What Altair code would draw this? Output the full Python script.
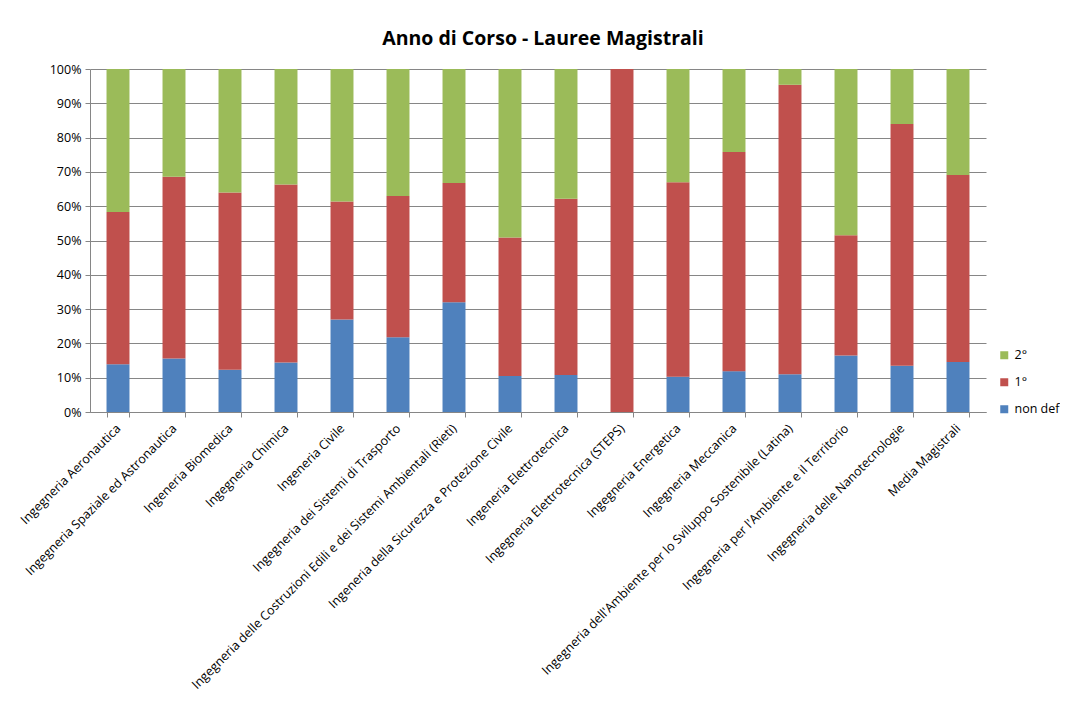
import altair as alt
import pandas as pd

categories = [
    "Ingegneria Aeronautica",
    "Ingegneria Spaziale ed Astronautica",
    "Ingeneria Biomedica",
    "Ingegneria Chimica",
    "Ingeneria Civile",
    "Ingegneria dei Sistemi di Trasporto",
    "Ingegneria delle Costruzioni Edili e dei Sistemi Ambientali (Rieti)",
    "Ingeneria della Sicurezza e Protezione Civile",
    "Ingeneria Elettrotecnica",
    "Ingegneria Elettrotecnica (STEPS)",
    "Ingegneria Energetica",
    "Ingegneria Meccanica",
    "Ingegneria dell'Ambiente per lo Sviluppo Sostenibile (Latina)",
    "Ingegneria per l'Ambiente e il Territorio",
    "Ingegneria delle Nanotecnologie",
    "Media Magistrali",
]
non_def = [13.9, 15.6, 12.3, 14.4, 27.0, 21.8, 32.0, 10.5, 10.8, 0.0, 10.3, 11.9, 11.0, 16.5, 13.5, 14.6]
primo = [44.4, 53.0, 51.7, 51.9, 34.4, 41.2, 34.8, 40.4, 51.4, 100.0, 56.7, 63.9, 84.4, 35.0, 70.5, 54.5]
secondo = [41.7, 31.4, 36.0, 33.7, 38.6, 37.0, 33.2, 49.1, 37.8, 0.0, 33.0, 24.2, 4.6, 48.5, 16.0, 30.9]

series = ["2°", "1°", "non def"]
colors = ["#9BBB59", "#C0504D", "#4F81BD"]
stack_order = {"non def": 0, "1°": 1, "2°": 2}

rows = []
for i, c in enumerate(categories):
    for name, vals in (("non def", non_def), ("1°", primo), ("2°", secondo)):
        rows.append({"cat": c, "serie": name, "val": vals[i], "ord": stack_order[name]})
df = pd.DataFrame(rows)

FONT = "Open Sans"

chart = alt.Chart(df).mark_bar().encode(
    x=alt.X("cat:N", sort=categories, title=None,
            scale=alt.Scale(paddingInner=0.59, paddingOuter=0.295),
            axis=alt.Axis(labelAngle=-45, labelAlign="right", labelBaseline="middle",
                          labelFontSize=12.5, labelColor="#000000", labelLimit=600,
                          tickBand="extent", tickColor="#868686", tickSize=5,
                          domainColor="#868686", labelPadding=9)),
    y=alt.Y("val:Q", stack="zero", title=None,
            scale=alt.Scale(domain=[0, 100], nice=False),
            axis=alt.Axis(values=list(range(0, 101, 10)),
                          labelExpr="datum.value + '%'",
                          labelFontSize=12.5, labelColor="#000000",
                          gridColor="#868686", gridWidth=1,
                          domainColor="#868686", tickColor="#868686", tickSize=5,
                          labelPadding=4)),
    color=alt.Color("serie:N", title=None,
                    scale=alt.Scale(domain=series, range=colors),
                    legend=alt.Legend(orient="none", legendX=908, legendY=280,
                                      symbolType="square", symbolSize=64,
                                      labelFontSize=12.5, labelColor="#000000",
                                      labelOffset=4,
                                      rowPadding=14, symbolStrokeWidth=0,
                                      labelLimit=200)),
    order=alt.Order("ord:Q", sort="ascending"),
).properties(
    width=896,
    height=343,
    title=alt.TitleParams("Anno di Corso - Lauree Magistrali", fontSize=19.5,
                          fontWeight="bold", font=FONT, color="#000000",
                          anchor="middle", offset=14, dx=5),
    autosize=alt.AutoSizeParams(type="none"),
    padding={"left": 82, "top": 61, "right": 74, "bottom": 288},
).configure(font=FONT).configure_view(stroke=None).configure_axis(
    labelFont=FONT, grid=True
).configure_axisX(grid=False)

chart.save("out.html", embed_options={"renderer": "svg", "actions": False})
